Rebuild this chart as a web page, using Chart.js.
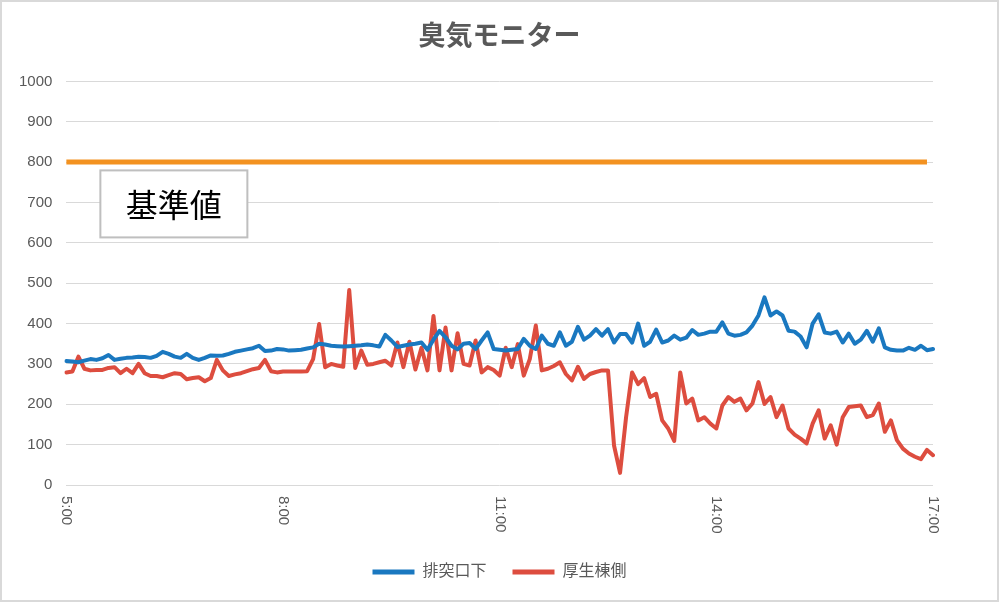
<!DOCTYPE html>
<html>
<head>
<meta charset="utf-8">
<script src="https://cdn.jsdelivr.net/npm/chart.js@4"></script>
<style>
  html, body { margin: 0; padding: 0; background: #fff; }
  #wrap { width: 999px; height: 602px; }
</style>
</head>
<body>
<div id="wrap"><canvas id="chart1" width="999" height="602"></canvas></div>
<script>
// readings every 5 minutes, 5:00 .. 17:00
const startHour = 5;
const stepMin = 5;
const tickHours = ['5:00', '8:00', '11:00', '14:00', '17:00'];

const stackVals = [
  307, 306, 304, 308, 312, 310, 314, 322, 310, 313,
  315, 316, 318, 317, 315, 320, 330, 325, 318, 315,
  325, 315, 310, 315, 321, 320, 321, 325, 330, 333,
  336, 339, 345, 332, 333, 337, 336, 333, 334, 335,
  338, 341, 350, 348, 345, 344, 343, 344, 345, 346,
  348, 346, 343, 372, 358, 342, 345, 348, 350, 353,
  335, 360, 382, 366, 345, 336, 350, 352, 337, 358,
  378, 337, 335, 333, 335, 337, 362, 345, 337, 370,
  350, 345, 378, 345, 355, 392, 360, 370, 386, 370,
  386, 353, 374, 374, 353, 400, 345, 355, 385, 353,
  358, 370, 360, 365, 384, 372, 375, 380, 380, 403,
  375, 370, 372, 378, 395, 420, 465, 420, 430, 420,
  382, 380, 368, 341, 400, 423, 378, 375, 380, 353,
  375, 350, 360, 382, 355, 388, 341, 335, 333, 333,
  340, 335, 345, 334, 337
];

const welfareVals = [
  279, 281, 318, 288, 284, 285, 285, 290, 292, 277,
  288, 277, 300, 277, 270, 270, 267, 272, 277, 275,
  262, 265, 267, 257, 265, 310, 284, 270, 274, 277,
  282, 287, 290, 310, 282, 279, 281, 281, 281, 281,
  282, 312, 399, 292, 300, 296, 293, 483, 290, 333,
  298, 300, 304, 308, 296, 353, 292, 355, 286, 340,
  284, 419, 284, 390, 284, 376, 300, 296, 358, 279,
  292, 285, 271, 340, 292, 349, 271, 312, 395, 284,
  288, 295, 304, 275, 259, 293, 263, 275, 280, 284,
  284, 98, 30, 168, 279, 250, 265, 218, 226, 160,
  140, 109, 279, 202, 214, 160, 168, 152, 140, 197,
  218, 206, 214, 185, 202, 255, 201, 218, 168, 197,
  140, 125, 115, 103, 152, 185, 115, 148, 100, 168,
  193, 195, 197, 168, 173, 202, 132, 160, 111, 90,
  78, 70, 64, 87, 74
];

const limitValue = 800;

const times = [];
for (let i = 0; i < stackVals.length; i++) {
  const m = i * stepMin;
  const h = startHour + Math.floor(m / 60);
  const mm = m % 60;
  times.push(h + ':' + (mm < 10 ? '0' : '') + mm);
}
const limitLine = times.map((t, i) => i < times.length - 1 ? limitValue : null);

const jpFont = "'Liberation Sans', 'Noto Sans CJK JP', sans-serif";

const extras = {
  id: 'extras',
  beforeDraw(chart) {
    const c = chart.ctx;
    c.save();
    c.fillStyle = '#fff';
    c.fillRect(0, 0, chart.width, chart.height);
    c.strokeStyle = '#d9d9d9';
    c.lineWidth = 2;
    c.strokeRect(1, 1, chart.width - 2, chart.height - 2);
    c.restore();
  },
  afterDraw(chart) {
    const c = chart.ctx;
    const x = chart.scales.x;
    const area = chart.chartArea;
    // rotated time labels (top to bottom)
    c.save();
    c.fillStyle = '#595959';
    c.font = "15px " + jpFont;
    c.textBaseline = 'middle';
    c.textAlign = 'left';
    times.forEach((t, i) => {
      if (!tickHours.includes(t)) return;
      const px = x.getPixelForValue(i);
      c.save();
      c.translate(px, area.bottom + 11);
      c.rotate(Math.PI / 2);
      c.fillText(t, 0, 0);
      c.restore();
    });
    // label box for the limit line
    const bx = area.left + 34, by = area.top + 89, bw = 147, bh = 67;
    c.fillStyle = '#fff';
    c.fillRect(bx, by, bw, bh);
    c.strokeStyle = '#bfbfbf';
    c.lineWidth = 2;
    c.strokeRect(bx, by, bw, bh);
    c.fillStyle = '#000';
    c.font = "32px 'Noto Sans CJK JP', sans-serif";
    c.textAlign = 'center';
    c.textBaseline = 'middle';
    c.fillText('基準値', bx + bw / 2, by + bh / 2 + 1);
    c.restore();
  }
};

const ctx1 = document.getElementById('chart1').getContext('2d');
const chart1 = new Chart(ctx1, {
  type: 'line',
  data: {
    labels: times,
    datasets: [{
      label: '排突口下',
      data: stackVals,
      borderColor: '#1a78c0',
      backgroundColor: '#1a78c0',
      borderWidth: 4,
      pointRadius: 0,
      tension: 0,
      borderJoinStyle: 'round',
      borderCapStyle: 'round'
    }, {
      label: '厚生棟側',
      data: welfareVals,
      borderColor: '#dd4d3f',
      backgroundColor: '#dd4d3f',
      borderWidth: 4,
      pointRadius: 0,
      tension: 0,
      borderJoinStyle: 'round',
      borderCapStyle: 'round'
    }, {
      label: '基準値',
      data: limitLine,
      borderColor: '#f39220',
      backgroundColor: '#f39220',
      borderWidth: 5,
      pointRadius: 0
    }]
  },
  options: {
    responsive: false,
    animation: false,
    layout: { padding: { left: 5, right: 5, top: 0, bottom: 12 } },
    plugins: {
      title: {
        display: true,
        text: '臭気モニター',
        color: '#595959',
        font: { family: jpFont, size: 27, weight: 'bold' },
        padding: { top: 21, bottom: 28 }
      },
      legend: {
        position: 'bottom',
        labels: {
          color: '#595959',
          font: { family: jpFont, size: 16 },
          boxWidth: 42,
          boxHeight: 5,
          padding: 26,
          generateLabels: chart => Chart.defaults.plugins.legend.labels.generateLabels(chart)
            .filter(item => item.text !== '基準値')
            .map(item => Object.assign(item, { lineWidth: 0 }))
        }
      },
      tooltip: { enabled: false }
    },
    scales: {
      x: {
        grid: { display: false },
        border: { display: false },
        ticks: { display: false },
        afterFit(scale) { scale.height = 53; }
      },
      y: {
        min: 0,
        max: 1000,
        ticks: {
          stepSize: 100,
          color: '#595959',
          font: { family: jpFont, size: 15 },
          padding: 14,
          callback: v => String(v)
        },
        grid: { color: '#d9d9d9', drawTicks: false },
        border: { display: false }
      },
      // empty spacer on the right so the plot ends where the original does
      y2: {
        position: 'right',
        display: true,
        grid: { display: false },
        border: { display: false },
        ticks: { display: false },
        afterFit(scale) { scale.width = 61; }
      }
    }
  },
  plugins: [extras]
});
</script>
</body>
</html>
